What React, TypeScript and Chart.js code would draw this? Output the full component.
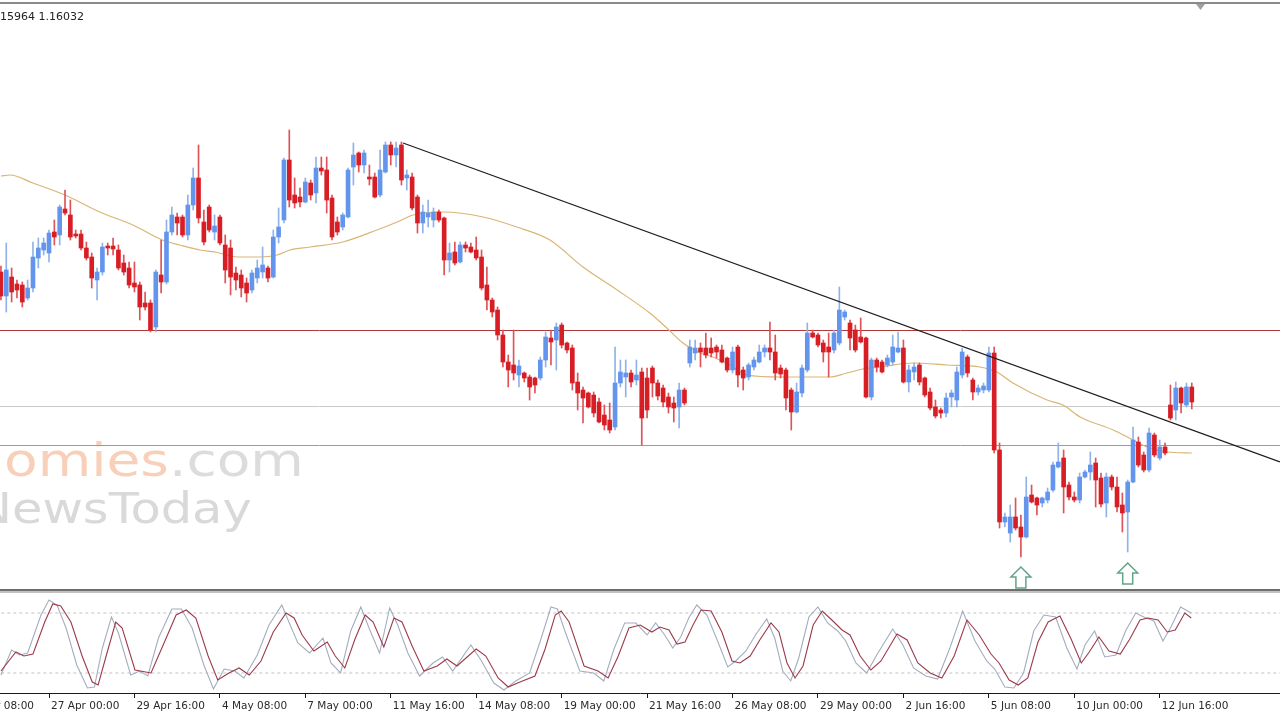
import React, { useEffect, useRef } from 'react';
import { Chart, registerables } from 'chart.js';

Chart.register(...registerables);

// ---- axis geometry (bar index units / price units) ----
const X_MIN = -0.176;
const X_MAX = 239.52;
const PRICE_MIN = 1.1415;
const PRICE_MAX = 1.2005;

// ---- H4 candles ----
const opens = [
  1.1733, 1.1709, 1.1728, 1.1721, 1.1720, 1.1707, 1.1717, 1.1747, 1.1755, 1.1752,
  1.1773, 1.1770, 1.1796, 1.1790, 1.1771, 1.1771, 1.1757, 1.1748, 1.1725, 1.1733,
  1.1759, 1.1759, 1.1755, 1.1742, 1.1737, 1.1722, 1.1720, 1.1702, 1.1702, 1.1678,
  1.1730, 1.1723, 1.1773, 1.1788, 1.1788, 1.1770, 1.1800, 1.1827, 1.1783, 1.1798,
  1.1773, 1.1788, 1.1760, 1.1757, 1.1732, 1.1730, 1.1722, 1.1715, 1.1727, 1.1733,
  1.1737, 1.1728, 1.1768, 1.1785, 1.1845, 1.1810, 1.1808, 1.1803, 1.1822, 1.1812,
  1.1837, 1.1835, 1.1807, 1.1783, 1.1778, 1.1788, 1.1838, 1.1852, 1.1840, 1.1828,
  1.1828, 1.1810, 1.1833, 1.1860, 1.1850, 1.1860, 1.1827, 1.1828, 1.1808, 1.1782,
  1.1788, 1.1785, 1.1793, 1.1787, 1.1745, 1.1753, 1.1743, 1.1760, 1.1758, 1.1755,
  1.1748, 1.1720, 1.1705, 1.1695, 1.1670, 1.1643, 1.1640, 1.1630, 1.1632, 1.1628,
  1.1627, 1.1627, 1.1645, 1.1667, 1.1665, 1.1680, 1.1662, 1.1657, 1.1623, 1.1615,
  1.1612, 1.1610, 1.1603, 1.1590, 1.1585, 1.1578, 1.1622, 1.1628, 1.1632, 1.1625,
  1.1633, 1.1627, 1.1637, 1.1622, 1.1617, 1.1608, 1.1602, 1.1598, 1.1615, 1.1642,
  1.1652, 1.1657, 1.1657, 1.1657, 1.1658, 1.1655, 1.1647, 1.1635, 1.1658, 1.1635,
  1.1628, 1.1638, 1.1643, 1.1653, 1.1657, 1.1653, 1.1637, 1.1635, 1.1615, 1.1593,
  1.1612, 1.1635, 1.1672, 1.1670, 1.1662, 1.1658, 1.1655, 1.1662, 1.1688, 1.1682,
  1.1675, 1.1668, 1.1667, 1.1608, 1.1645, 1.1643, 1.1640, 1.1643, 1.1653, 1.1657,
  1.1623, 1.1633, 1.1640, 1.1627, 1.1613, 1.1598, 1.1595, 1.1592, 1.1608, 1.1605,
  1.1630, 1.1648, 1.1625, 1.1613, 1.1615, 1.1615, 1.1652, 1.1555, 1.1483, 1.1472,
  1.1488, 1.1478, 1.1468, 1.1510, 1.1507, 1.1502, 1.1505, 1.1515, 1.1538, 1.1547,
  1.1520, 1.1508, 1.1505, 1.1528, 1.1533, 1.1542, 1.1527, 1.1502, 1.1528, 1.1518,
  1.1500, 1.1493, 1.1523, 1.1563, 1.1550, 1.1535, 1.1570, 1.1547, 1.1558, 1.1600,
  1.1595, 1.1617, 1.1600, 1.1618,
];
const highs = [
  1.1739, 1.1762, 1.1737, 1.1725, 1.1723, 1.1725, 1.1763, 1.1767, 1.1767, 1.1775,
  1.1785, 1.1800, 1.1815, 1.1805, 1.1775, 1.1775, 1.1763, 1.1752, 1.1737, 1.1762,
  1.1762, 1.1767, 1.1760, 1.1750, 1.1743, 1.1743, 1.1723, 1.1713, 1.1705, 1.1735,
  1.1765, 1.1785, 1.1798, 1.1792, 1.1790, 1.1810, 1.1837, 1.1860, 1.1795, 1.1800,
  1.1790, 1.1790, 1.1770, 1.1765, 1.1738, 1.1735, 1.1727, 1.1735, 1.1745, 1.1758,
  1.1739, 1.1775, 1.1797, 1.1847, 1.1875, 1.1827, 1.1817, 1.1827, 1.1825, 1.1848,
  1.1848, 1.1848, 1.1810, 1.1788, 1.1792, 1.1837, 1.1862, 1.1853, 1.1855, 1.1840,
  1.1832, 1.1855, 1.1863, 1.1863, 1.1863, 1.1863, 1.1835, 1.1832, 1.1810, 1.1800,
  1.1805, 1.1797, 1.1795, 1.1788, 1.1762, 1.1763, 1.1763, 1.1763, 1.1762, 1.1768,
  1.1755, 1.1738, 1.1707, 1.1698, 1.1675, 1.1650, 1.1675, 1.1645, 1.1633, 1.1630,
  1.1628, 1.1648, 1.1673, 1.1675, 1.1682, 1.1682, 1.1663, 1.1660, 1.1632, 1.1618,
  1.1613, 1.1613, 1.1607, 1.1600, 1.1602, 1.1658, 1.1645, 1.1645, 1.1635, 1.1645,
  1.1637, 1.1637, 1.1639, 1.1625, 1.1620, 1.1612, 1.1608, 1.1622, 1.1617, 1.1665,
  1.1665, 1.1662, 1.1672, 1.1667, 1.1660, 1.1660, 1.1648, 1.1658, 1.1660, 1.1638,
  1.1642, 1.1648, 1.1660, 1.1660, 1.1683, 1.1670, 1.1640, 1.1637, 1.1617, 1.1622,
  1.1640, 1.1682, 1.1675, 1.1672, 1.1665, 1.1672, 1.1675, 1.1718, 1.1695, 1.1685,
  1.1680, 1.1687, 1.1668, 1.1647, 1.1647, 1.1645, 1.1650, 1.1670, 1.1673, 1.1665,
  1.1640, 1.1642, 1.1642, 1.1628, 1.1617, 1.1605, 1.1597, 1.1612, 1.1615, 1.1638,
  1.1657, 1.1650, 1.1627, 1.1620, 1.1622, 1.1658, 1.1658, 1.1562, 1.1492, 1.1500,
  1.1507, 1.1490, 1.1528, 1.1520, 1.1508, 1.1508, 1.1517, 1.1543, 1.1562, 1.1555,
  1.1523, 1.1513, 1.1532, 1.1535, 1.1553, 1.1547, 1.1532, 1.1532, 1.1530, 1.1528,
  1.1512, 1.1525, 1.1578, 1.1568, 1.1553, 1.1577, 1.1572, 1.1565, 1.1562, 1.1620,
  1.1623, 1.1618, 1.1622, 1.1622,
];
const lows = [
  1.1705, 1.1693, 1.1703, 1.1707, 1.1698, 1.1705, 1.1713, 1.1737, 1.1750, 1.1743,
  1.1760, 1.1760, 1.1790, 1.1765, 1.1767, 1.1755, 1.1745, 1.1717, 1.1705, 1.1730,
  1.1750, 1.1750, 1.1735, 1.1730, 1.1717, 1.1713, 1.1685, 1.1695, 1.1673, 1.1673,
  1.1712, 1.1721, 1.1770, 1.1770, 1.1768, 1.1765, 1.1795, 1.1782, 1.1760, 1.1773,
  1.1765, 1.1760, 1.1722, 1.1710, 1.1715, 1.1708, 1.1703, 1.1712, 1.1722, 1.1727,
  1.1723, 1.1727, 1.1762, 1.1782, 1.1798, 1.1797, 1.1798, 1.1802, 1.1805, 1.1802,
  1.1830, 1.1792, 1.1765, 1.1770, 1.1775, 1.1787, 1.1820, 1.1833, 1.1832, 1.1820,
  1.1807, 1.1808, 1.1832, 1.1840, 1.1838, 1.1820, 1.1815, 1.1795, 1.1772, 1.1772,
  1.1778, 1.1778, 1.1783, 1.1730, 1.1733, 1.1740, 1.1742, 1.1753, 1.1752, 1.1745,
  1.1715, 1.1695, 1.1688, 1.1665, 1.1638, 1.1618, 1.1625, 1.1618, 1.1623, 1.1605,
  1.1612, 1.1625, 1.1638, 1.1640, 1.1635, 1.1657, 1.1652, 1.1615, 1.1595, 1.1582,
  1.1597, 1.1588, 1.1582, 1.1575, 1.1572, 1.1575, 1.1618, 1.1608, 1.1618, 1.1620,
  1.1560, 1.1587, 1.1608, 1.1605, 1.1598, 1.1592, 1.1583, 1.1577, 1.1600, 1.1638,
  1.1645, 1.1638, 1.1647, 1.1648, 1.1647, 1.1642, 1.1633, 1.1632, 1.1618, 1.1615,
  1.1625, 1.1635, 1.1642, 1.1648, 1.1645, 1.1625, 1.1627, 1.1595, 1.1575, 1.1592,
  1.1608, 1.1633, 1.1667, 1.1658, 1.1643, 1.1628, 1.1652, 1.1660, 1.1685, 1.1655,
  1.1653, 1.1662, 1.1607, 1.1605, 1.1633, 1.1632, 1.1638, 1.1640, 1.1652, 1.1622,
  1.1613, 1.1625, 1.1620, 1.1608, 1.1595, 1.1587, 1.1587, 1.1588, 1.1598, 1.1598,
  1.1627, 1.1628, 1.1605, 1.1610, 1.1612, 1.1613, 1.1552, 1.1477, 1.1478, 1.1463,
  1.1475, 1.1448, 1.1467, 1.1502, 1.1490, 1.1498, 1.1502, 1.1513, 1.1537, 1.1492,
  1.1505, 1.1503, 1.1502, 1.1527, 1.1525, 1.1498, 1.1498, 1.1488, 1.1515, 1.1493,
  1.1473, 1.1453, 1.1522, 1.1538, 1.1533, 1.1533, 1.1548, 1.1545, 1.1550, 1.1585,
  1.1585, 1.1592, 1.1598, 1.1596,
];
const closes = [
  1.1709, 1.1735, 1.1713, 1.1715, 1.1703, 1.1717, 1.1748, 1.1757, 1.1762, 1.1772,
  1.1768, 1.1798, 1.1792, 1.1768, 1.1769, 1.1757, 1.1747, 1.1727, 1.1733, 1.1758,
  1.1757, 1.1756, 1.1737, 1.1733, 1.1720, 1.1718, 1.1698, 1.1698, 1.1675, 1.1733,
  1.1723, 1.1773, 1.1790, 1.1782, 1.1770, 1.1800, 1.1827, 1.1787, 1.1763, 1.1775,
  1.1779, 1.1762, 1.1735, 1.1728, 1.1725, 1.1717, 1.1712, 1.1732, 1.1737, 1.1740,
  1.1727, 1.1768, 1.1778, 1.1845, 1.1805, 1.1802, 1.1803, 1.1823, 1.1810, 1.1837,
  1.1834, 1.1805, 1.1768, 1.1773, 1.1790, 1.1835, 1.1850, 1.1840, 1.1852, 1.1826,
  1.1808, 1.1835, 1.1860, 1.1850, 1.1857, 1.1825, 1.1830, 1.1797, 1.1782, 1.1793,
  1.1792, 1.1793, 1.1785, 1.1745, 1.1752, 1.1742, 1.1760, 1.1757, 1.1753, 1.1747,
  1.1717, 1.1705, 1.1693, 1.1670, 1.1643, 1.1635, 1.1632, 1.1639, 1.1627, 1.1618,
  1.1620, 1.1645, 1.1668, 1.1663, 1.1678, 1.1660, 1.1655, 1.1622, 1.1612, 1.1607,
  1.1598, 1.1592, 1.1583, 1.1580, 1.1575, 1.1622, 1.1633, 1.1632, 1.1623, 1.1630,
  1.1587, 1.1595, 1.1622, 1.1609, 1.1603, 1.1598, 1.1597, 1.1615, 1.1602, 1.1658,
  1.1657, 1.1653, 1.1650, 1.1652, 1.1653, 1.1643, 1.1635, 1.1653, 1.1630, 1.1627,
  1.1640, 1.1645, 1.1653, 1.1657, 1.1653, 1.1632, 1.1631, 1.1607, 1.1593, 1.1613,
  1.1637, 1.1672, 1.1668, 1.1660, 1.1653, 1.1653, 1.1672, 1.1695, 1.1693, 1.1667,
  1.1655, 1.1663, 1.1608, 1.1645, 1.1638, 1.1633, 1.1647, 1.1658, 1.1657, 1.1623,
  1.1635, 1.1638, 1.1623, 1.1610, 1.1597, 1.1589, 1.1592, 1.1607, 1.1612, 1.1633,
  1.1653, 1.1632, 1.1613, 1.1617, 1.1619, 1.1652, 1.1555, 1.1483, 1.1488, 1.1488,
  1.1477, 1.1468, 1.1508, 1.1503, 1.1500, 1.1507, 1.1513, 1.1540, 1.1543, 1.1518,
  1.1508, 1.1505, 1.1528, 1.1533, 1.1540, 1.1525, 1.1501, 1.1528, 1.1518, 1.1498,
  1.1492, 1.1523, 1.1565, 1.1540, 1.1535, 1.1572, 1.1550, 1.1558, 1.1552, 1.1587,
  1.1617, 1.1602, 1.1618, 1.1603,
];

// ---- time axis ----
const tickBars = [-7, 9, 25, 41, 57, 73, 89, 105, 121, 137, 153, 169, 185, 201, 217];
const tickLabels = [
  '22 Apr 08:00', '27 Apr 00:00', '29 Apr 16:00', '4 May 08:00', '7 May 00:00',
  '11 May 16:00', '14 May 08:00', '19 May 00:00', '21 May 16:00', '26 May 08:00',
  '29 May 00:00', '2 Jun 16:00', '5 Jun 08:00', '10 Jun 00:00', '12 Jun 16:00',
];

// ---- moving average: [bar, price] ----
const maLine = [
  [0, 1.1829], [1.7, 1.1830], [6, 1.1822], [12, 1.1810], [18.5, 1.1793], [24.7, 1.1780],
  [30.2, 1.1765], [33.5, 1.1760], [37.3, 1.1755], [40.1, 1.1753], [44.2, 1.1748], [48.5, 1.1748],
  [51.7, 1.1750], [54.1, 1.1755], [57.9, 1.1758], [64, 1.1763], [70.4, 1.1775], [74.2, 1.1783],
  [77.2, 1.1790], [82.8, 1.1793], [90.3, 1.1788], [96.6, 1.1778], [102.8, 1.1765], [109, 1.1738],
  [115.4, 1.1715], [121.5, 1.1692], [124.7, 1.1677], [127.7, 1.1662], [130.9, 1.1652], [133.3, 1.1648],
  [136.5, 1.1640], [139.7, 1.1630], [145.9, 1.1628], [155.3, 1.1628], [158.4, 1.1632], [161.4, 1.1636],
  [164.6, 1.1638], [170.8, 1.1642], [177.2, 1.1640], [183.3, 1.1638], [186.5, 1.1633], [189.5, 1.1622],
  [195.9, 1.1605], [198.9, 1.1600], [202.1, 1.1588], [208.3, 1.1575], [212, 1.1565], [214.6, 1.1558],
  [218.4, 1.1553], [223, 1.1552],
];

// ---- drawn objects ----
const levelRed = 1.16745;
const levelGray = 1.15985;
const levelGreen = 1.15595;
const trendLine = [[75.3, 1.1862], [239.5, 1.1543]];
const arrowBars = [191, 211];
const arrowTips = [1.1438, 1.1442];

// ---- stochastic oscillator: [bar, value] ----
const stochSignal = [
  [0, 22], [2.8, 41], [4.3, 37], [6, 39], [8.2, 71], [9.7, 89], [11.2, 87], [13.1, 71], [15.2, 37],
  [17.1, 11], [18.2, 8], [19.7, 37], [21.5, 71], [22.7, 65], [25.1, 23], [28.1, 20], [30.3, 47],
  [32.8, 78], [34.7, 83], [36.5, 75], [38.8, 37], [40.6, 13], [42.7, 20], [44.6, 25], [46.5, 18],
  [48.7, 32], [51, 61], [53.4, 80], [54.9, 75], [56.4, 58], [58.6, 42], [61.1, 51], [62.6, 37],
  [64.4, 25], [66.3, 54], [68.2, 78], [69.7, 71], [71.7, 46], [73.6, 75], [75.1, 71], [77, 47],
  [79.2, 22], [81.7, 27], [83.5, 34], [85.4, 27], [89, 44], [90.8, 37], [93.1, 15], [95, 6],
  [97.2, 11], [100, 17], [101.9, 44], [103.8, 78], [104.9, 82], [106.4, 71], [109.2, 27], [111.8, 22],
  [113.7, 15], [115.6, 37], [117.6, 65], [119.7, 68], [121.9, 61], [123.4, 66], [125.1, 63], [126.6, 49],
  [128.1, 51], [129.6, 68], [131.1, 83], [133, 82], [135, 61], [136.9, 32], [138.4, 30], [140.3, 37],
  [142.1, 53], [144.2, 70], [145.7, 61], [147.2, 30], [148.7, 15], [150.2, 27], [152.1, 68], [153.8, 82],
  [155.6, 73], [157.5, 63], [159, 58], [160.9, 37], [162.9, 23], [164.8, 32], [167.8, 59], [169.7, 53],
  [171.7, 30], [174, 20], [176.2, 15], [178.5, 37], [180.9, 73], [183.2, 58], [185.4, 39], [186.9, 30],
  [188.8, 13], [190.5, 8], [192.3, 15], [194.2, 51], [196.1, 71], [198.3, 77], [200.4, 54], [202.3, 30],
  [203.8, 41], [205.6, 56], [207.5, 42], [209.6, 39], [211.4, 54], [213.3, 73], [214.8, 75], [216.7, 73],
  [218.4, 61], [219.9, 63], [221.7, 80], [222.9, 75],
];
const stochMain = [
  [0, 18], [2, 43], [3.5, 38], [5, 40], [7.5, 78], [9, 93], [10.5, 88], [12.2, 65], [14.2, 28],
  [16.2, 5], [17.5, 6], [19, 45], [20.7, 76], [22, 60], [24.3, 18], [26, 22], [27.5, 17], [29.5, 55],
  [32, 84], [33.8, 84], [35.8, 65], [38, 28], [39.8, 4], [41.8, 24], [43.8, 22], [45.5, 15], [48, 38],
  [50.2, 68], [52.6, 88], [54, 70], [55.6, 50], [57.8, 40], [60.3, 55], [61.8, 30], [63.6, 20],
  [65.5, 62], [67.4, 86], [69, 64], [70.9, 40], [72.8, 85], [74.3, 68], [76.2, 40], [78.4, 17],
  [80.9, 30], [82.7, 36], [84.6, 22], [88, 48], [90, 32], [92.3, 10], [94.2, 3], [96.4, 12], [99, 20],
  [101, 52], [103, 86], [104.2, 84], [105.6, 62], [108.4, 22], [111, 20], [112.9, 12], [114.8, 44],
  [116.8, 70], [118.9, 70], [121, 58], [122.6, 70], [124.3, 58], [125.8, 45], [127.3, 56], [128.8, 75],
  [130.3, 88], [132.2, 78], [134.2, 52], [136.1, 26], [137.6, 32], [139.5, 42], [141.3, 58], [143.4, 74],
  [144.9, 55], [146.4, 22], [147.9, 12], [149.4, 35], [151.3, 76], [153, 86], [154.8, 70], [156.7, 62],
  [158.2, 52], [160.1, 30], [162.1, 20], [164, 38], [167, 64], [168.9, 48], [170.9, 25], [173.2, 17],
  [175.4, 14], [177.7, 45], [180.1, 82], [182.4, 52], [184.6, 32], [186.1, 24], [188, 6], [189.7, 5],
  [191.5, 20], [193.4, 62], [195.3, 78], [197.5, 76], [199.6, 45], [201.5, 24], [203, 48], [204.8, 62],
  [206.7, 36], [208.8, 38], [210.6, 62], [212.5, 80], [214, 76], [215.9, 72], [217.6, 52], [219.1, 66],
  [220.9, 86], [222.9, 80],
];
const stochLevels = [20, 80];

// ---- colours ----
const BULL_BODY = '#6495ed';
const BULL_WICK = '#8fb2ea';
const BEAR_BODY = '#d81e25';
const BEAR_WICK = '#df5257';

const FONT = '"DejaVu Sans", sans-serif';

function buildMainConfig(): any {
  const idx = opens.map((_, i) => i);
  const bull = (i: number) => closes[i] >= opens[i];
  const hline = (p: number, color: string) => ({
    type: 'line',
    data: [{ x: X_MIN - 2, y: p }, { x: X_MAX + 2, y: p }],
    borderColor: color,
    borderWidth: 1,
    pointRadius: 0,
    order: 6,
  });

  const decor = {
    id: 'decor',
    beforeDatasetsDraw(chart: any) {
      const ctx = chart.ctx;
      ctx.save();
      // watermark line 1
      const sx1 = 1.17;
      ctx.font = `47px ${FONT}`;
      ctx.textBaseline = 'alphabetic';
      const wEco = ctx.measureText('Economies').width;
      ctx.translate(169 - wEco * sx1, 476);
      ctx.scale(sx1, 1);
      ctx.fillStyle = '#f8d0b9';
      ctx.fillText('Economies', 0, 0);
      ctx.fillStyle = '#dcdcdc';
      ctx.fillText('.com', wEco, 0);
      ctx.restore();
      // watermark line 2
      ctx.save();
      const sx2 = 1.15;
      ctx.font = `43px ${FONT}`;
      const wN = ctx.measureText('N').width;
      ctx.translate(12 - wN * sx2, 523);
      ctx.scale(sx2, 1);
      ctx.fillStyle = '#d9d9d9';
      ctx.fillText('NewsToday', 0, 0);
      ctx.restore();
    },
    afterDatasetsDraw(chart: any) {
      const ctx = chart.ctx;
      const xs = chart.scales.x;
      const ys = chart.scales.y;
      ctx.save();
      arrowBars.forEach((b, k) => {
        const cx = xs.getPixelForValue(b);
        const top = ys.getPixelForValue(arrowTips[k]);
        ctx.beginPath();
        ctx.moveTo(cx, top);
        ctx.lineTo(cx + 10, top + 10);
        ctx.lineTo(cx + 5, top + 10);
        ctx.lineTo(cx + 5, top + 21);
        ctx.lineTo(cx - 5, top + 21);
        ctx.lineTo(cx - 5, top + 10);
        ctx.lineTo(cx - 10, top + 10);
        ctx.closePath();
        ctx.fillStyle = '#ffffff';
        ctx.fill();
        ctx.lineWidth = 1.5;
        ctx.strokeStyle = '#62a487';
        ctx.stroke();
      });
      // header text (partly cut at the left edge)
      ctx.font = `11px ${FONT}`;
      ctx.fillStyle = '#222222';
      ctx.textBaseline = 'alphabetic';
      const cut = ctx.measureText('1.').width;
      ctx.fillText('1.15964 1.16032', -cut, 20);
      // small shift marker top right
      ctx.beginPath();
      ctx.moveTo(1196, 4);
      ctx.lineTo(1205, 4);
      ctx.lineTo(1200.5, 10);
      ctx.closePath();
      ctx.fillStyle = '#a0a0a0';
      ctx.fill();
      ctx.restore();
    },
  };

  return {
    type: 'bar',
    data: {
      datasets: [
        {
          type: 'line',
          data: trendLine.map(([x, y]) => ({ x, y })),
          borderColor: '#1e1e1e',
          borderWidth: 1.3,
          pointRadius: 0,
          order: 0,
        },
        {
          type: 'bar',
          data: idx.map((i) => ({ x: i, y: [opens[i], closes[i]] })),
          backgroundColor: idx.map((i) => (bull(i) ? BULL_BODY : BEAR_BODY)),
          borderWidth: 0,
          grouped: false,
          barThickness: 4,
          minBarLength: 1,
          order: 2,
        },
        {
          type: 'bar',
          data: idx.map((i) => ({ x: i, y: [lows[i], highs[i]] })),
          backgroundColor: idx.map((i) => (bull(i) ? BULL_WICK : BEAR_WICK)),
          borderWidth: 0,
          grouped: false,
          barThickness: 1,
          order: 3,
        },
        {
          type: 'line',
          data: maLine.map(([x, y]) => ({ x, y })),
          borderColor: '#d9b574',
          borderWidth: 1.2,
          pointRadius: 0,
          cubicInterpolationMode: 'monotone',
          order: 4,
        },
        hline(levelRed, '#b03a3a'),
        hline(levelGray, '#c9c9c9'),
        hline(levelGreen, '#86a993'),
      ],
    },
    options: {
      animation: false,
      responsive: false,
      events: [],
      layout: { padding: 0 },
      plugins: { legend: { display: false }, tooltip: { enabled: false } },
      scales: {
        x: { type: 'linear', min: X_MIN, max: X_MAX, display: false, offset: false, bounds: 'data' },
        y: { type: 'linear', min: PRICE_MIN, max: PRICE_MAX, display: false, bounds: 'data', stacked: false },
      },
    },
    plugins: [decor],
  };
}

function buildOscConfig(): any {
  return {
    type: 'line',
    data: {
      datasets: [
        {
          data: stochSignal.map(([x, y]) => ({ x, y })),
          borderColor: '#9b3a4b',
          borderWidth: 1.1,
          pointRadius: 0,
          order: 0,
        },
        {
          data: stochMain.map(([x, y]) => ({ x, y })),
          borderColor: '#a4adbd',
          borderWidth: 1.1,
          pointRadius: 0,
          order: 1,
        },
        ...stochLevels.map((lv) => ({
          data: [{ x: X_MIN - 2, y: lv }, { x: X_MAX + 2, y: lv }],
          borderColor: '#c4c4c4',
          borderWidth: 1,
          borderDash: [3, 3],
          pointRadius: 0,
          order: 2,
        })),
      ],
    },
    options: {
      animation: false,
      responsive: false,
      events: [],
      layout: { padding: 0 },
      plugins: { legend: { display: false }, tooltip: { enabled: false } },
      scales: {
        x: {
          type: 'linear',
          min: X_MIN,
          max: X_MAX,
          bounds: 'data',
          offset: false,
          position: 'bottom',
          afterBuildTicks: (axis: any) => {
            axis.ticks = tickBars.map((v) => ({ value: v }));
          },
          afterFit: (axis: any) => {
            axis.height = 27;
            axis.paddingLeft = 0;
            axis.paddingRight = 0;
          },
          border: { display: true, color: '#1a1a1a', width: 1 },
          grid: { display: true, drawOnChartArea: false, drawTicks: true, tickLength: 5, color: '#1a1a1a' },
          ticks: {
            autoSkip: false,
            maxRotation: 0,
            minRotation: 0,
            align: 'start',
            labelOffset: 2,
            padding: 2,
            color: '#2a2a2a',
            font: { family: '"DejaVu Sans", sans-serif', size: 10.5 },
            callback: (_v: any, i: number) => tickLabels[i],
          },
        },
        y: { type: 'linear', min: 0, max: 100, display: false, bounds: 'data' },
      },
    },
  };
}

export default function App() {
  const mainRef = useRef<HTMLCanvasElement>(null);
  const oscRef = useRef<HTMLCanvasElement>(null);

  useEffect(() => {
    const main = new Chart(mainRef.current as HTMLCanvasElement, buildMainConfig());
    const osc = new Chart(oscRef.current as HTMLCanvasElement, buildOscConfig());
    return () => {
      main.destroy();
      osc.destroy();
    };
  }, []);

  return (
    <div
      style={{
        position: 'fixed',
        left: 0,
        top: 0,
        width: 1280,
        height: 720,
        background: '#ffffff',
        overflow: 'hidden',
      }}
    >
      <canvas ref={mainRef} width={1280} height={590} style={{ position: 'absolute', left: 0, top: 0 }} />
      <div style={{ position: 'absolute', left: 0, top: 2, width: 1280, height: 2, background: '#8a8a8a' }} />
      <div style={{ position: 'absolute', left: 0, top: 589, width: 1280, height: 2, background: '#6e6e6e' }} />
      <div style={{ position: 'absolute', left: 0, top: 591, width: 1280, height: 2, background: '#c2c2c2' }} />
      <canvas ref={oscRef} width={1280} height={127} style={{ position: 'absolute', left: 0, top: 593 }} />
    </div>
  );
}
